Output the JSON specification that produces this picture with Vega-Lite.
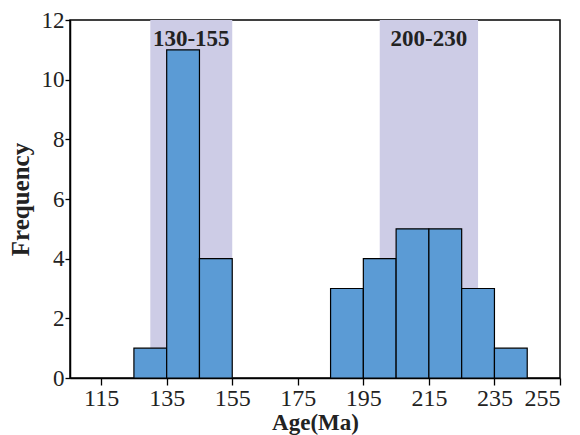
{
  "$schema": "https://vega.github.io/schema/vega-lite/v6.json",
  "autosize": "none",
  "width": 490,
  "height": 358,
  "padding": {"left": 70, "top": 20, "right": 20, "bottom": 57},
  "background": "white",
  "config": {
    "view": {"stroke": "black", "strokeWidth": 1.5},
    "font": "Liberation Serif"
  },
  "datasets": {
    "bars": [
      {"start": 125, "end": 135, "count": 1},
      {"start": 135, "end": 145, "count": 11},
      {"start": 145, "end": 155, "count": 4},
      {"start": 185, "end": 195, "count": 3},
      {"start": 195, "end": 205, "count": 4},
      {"start": 205, "end": 215, "count": 5},
      {"start": 215, "end": 225, "count": 5},
      {"start": 225, "end": 235, "count": 3},
      {"start": 235, "end": 245, "count": 1}
    ],
    "bands": [
      {"from": 130, "to": 155, "label": "130-155", "mid": 142.5, "ly": 11.35},
      {"from": 200, "to": 230, "label": "200-230", "mid": 215, "ly": 11.35}
    ]
  },
  "layer": [
    {
      "data": {"name": "bands"},
      "mark": {"type": "rect", "color": "#cdcce6"},
      "encoding": {
        "x": {"field": "from", "type": "quantitative", "scale": {"domain": [105.5, 255], "nice": false}},
        "x2": {"field": "to"},
        "y": {"datum": 0, "type": "quantitative"},
        "y2": {"datum": 12}
      }
    },
    {
      "data": {"name": "bars"},
      "mark": {"type": "rect", "color": "#5b9bd5", "stroke": "black", "strokeWidth": 1.2},
      "encoding": {
        "x": {
          "field": "start", "type": "quantitative",
          "scale": {"domain": [105.5, 255], "nice": false, "zero": false},
          "axis": {
            "title": "Age(Ma)",
            "values": [115, 125, 135, 145, 155, 165, 175, 185, 195, 205, 215, 225, 235, 245, 255],
            "labelExpr": "(datum.value - 115) % 20 == 0 ? datum.label : ''",
            "labelFontSize": 24, "labelColor": "#222", "labelPadding": 1,
            "tickSize": 7, "tickColor": "black", "tickWidth": 1.3,
            "domainColor": "black", "domainWidth": 1.5,
            "grid": false,
            "titleFontSize": 23, "titleFontWeight": "bold", "titleColor": "#222", "titlePadding": 1
          }
        },
        "x2": {"field": "end"},
        "y": {
          "field": "count", "type": "quantitative",
          "scale": {"domain": [0, 12], "nice": false},
          "axis": {
            "title": "Frequency",
            "values": [0, 2, 4, 6, 8, 10, 12],
            "labelFontSize": 23, "labelColor": "#222", "labelPadding": 1,
            "tickSize": 5, "tickColor": "black", "tickWidth": 1.3,
            "domainColor": "black", "domainWidth": 1.5,
            "grid": false,
            "titleFontSize": 25, "titleFontWeight": "bold", "titleColor": "#222", "titlePadding": 8
          }
        },
        "y2": {"datum": 0}
      }
    },
    {
      "data": {"name": "bands"},
      "mark": {"type": "text", "fontSize": 23, "fontWeight": "bold", "color": "#222", "baseline": "middle"},
      "encoding": {
        "x": {"field": "mid", "type": "quantitative"},
        "y": {"field": "ly", "type": "quantitative"},
        "text": {"field": "label"}
      }
    }
  ]
}
